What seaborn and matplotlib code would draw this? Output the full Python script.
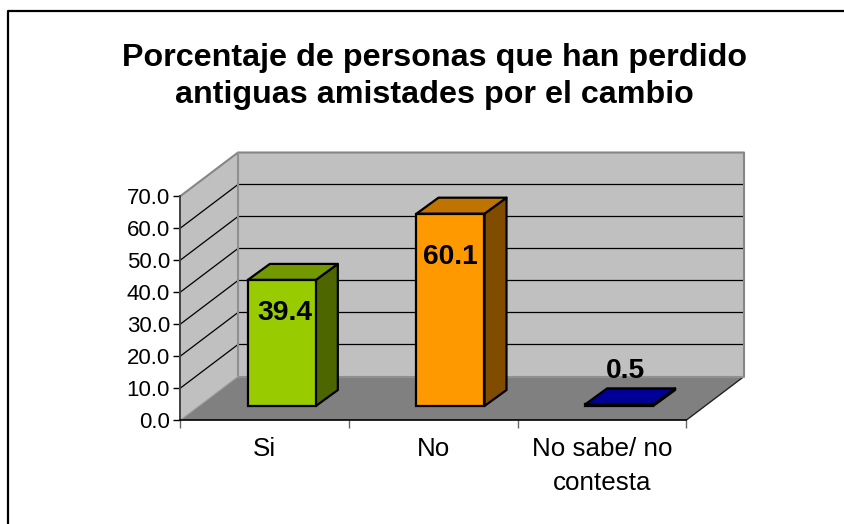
import numpy as np
import pandas as pd
import seaborn as sns
import matplotlib.pyplot as plt
from matplotlib.lines import Line2D
from matplotlib.patches import Polygon

categorias = ['Si', 'No', 'No sabe/ no\ncontesta']
porcentajes = [39.4, 60.1, 0.5]
colores = ['#99CC00', '#FF9900', '#0000CC']
colores_lado = ['#4D6600', '#804C00', '#000066']
colores_tapa = ['#739900', '#BF7300', '#000099']
ticks_y = [0, 10, 20, 30, 40, 50, 60, 70]
titulo = 'Porcentaje de personas que han perdido\nantiguas amistades por el cambio'

W, H = 845, 524
sns.set_theme(style='white')
plt.rcParams['font.family'] = ['Liberation Sans', 'DejaVu Sans']

df = pd.DataFrame({'categoria': categorias, 'valor': porcentajes})

fig = plt.figure(figsize=(W / 100, H / 100), dpi=100, facecolor='white')


def caja(x0, x1, y0, y1):
    # pixeles de la imagen (y hacia abajo) a fraccion de figura
    return [x0 / W, 1 - y1 / H, (x1 - x0) / W, (y1 - y0) / H]


# plano frontal del eje: 0 a 70 en pixeles 420 a 196
ax = fig.add_axes(caja(180.5, 686.5, 196, 420))
ax.set_xlim(-0.5, 2.5)
ax.set_ylim(0, 70)
ax.patch.set_alpha(0)

px_x = 506 / 3
px_y = 224 / 70
fondo_dx, fondo_dy = 57.5 / px_x, 43.5 / px_y


def poly(puntos, **kw):
    ax.add_patch(Polygon(puntos, closed=True, clip_on=False, **kw))


# paredes y suelo
x0, x1 = -0.5, 2.5
poly([(x0 + fondo_dx, fondo_dy), (x1 + fondo_dx, fondo_dy),
      (x1 + fondo_dx, 70 + fondo_dy), (x0 + fondo_dx, 70 + fondo_dy)],
     fc='#C0C0C0', ec='none', zorder=0.5)
poly([(x0, 0), (x0 + fondo_dx, fondo_dy), (x0 + fondo_dx, 70 + fondo_dy), (x0, 70)],
     fc='#C0C0C0', ec='none', zorder=0.6)
poly([(x0, 0), (x1, 0), (x1 + fondo_dx, fondo_dy), (x0 + fondo_dx, fondo_dy)],
     fc='#808080', ec='none', zorder=0.7)
ax.plot([x1, x1 + fondo_dx], [0, fondo_dy], color='#222222', lw=1, clip_on=False, zorder=0.8)

# rejilla
for t in ticks_y[1:-1]:
    ax.plot([x0, x0 + fondo_dx, x1 + fondo_dx],
            [t, t + fondo_dy, t + fondo_dy],
            color='black', lw=0.9, clip_on=False, zorder=0.9)

# contorno gris de las paredes
ax.plot([x0, x0 + fondo_dx, x1 + fondo_dx, x1 + fondo_dx],
        [70, 70 + fondo_dy, 70 + fondo_dy, fondo_dy],
        color='#868686', lw=1.5, clip_on=False, zorder=1)
ax.plot([x0 + fondo_dx, x0 + fondo_dx, x1 + fondo_dx],
        [70 + fondo_dy, fondo_dy, fondo_dy],
        color='#909090', lw=1.5, clip_on=False, zorder=1)
ax.plot([x0, x0 + fondo_dx], [0, fondo_dy],
        color='#A0A0A0', lw=0.8, clip_on=False, zorder=1)

# barras: plano a media profundidad, desplazado 17 px y 14 px
ax_b = fig.add_axes(caja(197.5, 703.5, 182, 406))
ax_b.patch.set_alpha(0)
sns.barplot(data=df, x='categoria', y='valor', hue='categoria', palette=colores,
            legend=False, width=68 / px_x, saturation=1, edgecolor='black',
            linewidth=1.6, ax=ax_b, zorder=3, clip_on=False)
ax_b.set_xlim(-0.5, 2.5)
ax_b.set_ylim(0, 70)
ax_b.axis('off')

# desplazamiento de cada etiqueta respecto al centro superior de la barra, en puntos
desp_etiquetas = [(2.5, -23.6), (0.2, -31), (4.7, 24)]

bar_dx, bar_dy = 22 / px_x, 16 / px_y
for i, (barra, v) in enumerate(zip(ax_b.patches, porcentajes)):
    a, b = barra.get_x(), barra.get_x() + barra.get_width()
    ax_b.add_patch(Polygon([(b, 0), (b + bar_dx, bar_dy), (b + bar_dx, v + bar_dy), (b, v)],
                           closed=True, fc=colores_lado[i], ec='black', lw=1.6,
                           joinstyle='round', clip_on=False, zorder=2))
    ax_b.add_patch(Polygon([(a, v), (b, v), (b + bar_dx, v + bar_dy), (a + bar_dx, v + bar_dy)],
                           closed=True, fc=colores_tapa[i], ec='black', lw=1.6,
                           joinstyle='round', clip_on=False, zorder=2.5))
    ax_b.annotate(f'{v:.1f}', (i, v), xytext=desp_etiquetas[i], textcoords='offset points',
                  ha='center', va='center', fontsize=20.3, fontweight='bold',
                  color='black', zorder=5)

# ejes
ax.set_yticks(ticks_y)
ax.set_yticklabels([f'{t:.1f}' for t in ticks_y], fontsize=16, color='black')
ax.set_xticks([-0.5, 0.5, 1.5, 2.5])
ax.set_xticklabels([])
ax.tick_params(axis='y', length=5, width=1, color='black', pad=2.5, left=True)
ax.tick_params(axis='x', length=6, width=1, color='#666666', bottom=True)
for i, c in enumerate(categorias):
    ax.text(i, -5.3, c, ha='center', va='top', fontsize=18.7, color='black',
            linespacing=1.53)
for lado in ['top', 'right']:
    ax.spines[lado].set_visible(False)
ax.spines['left'].set_color('#404040')
ax.spines['left'].set_linewidth(1.4)
ax.spines['bottom'].set_color('black')
ax.spines['bottom'].set_linewidth(1.2)

# marco y titulo: solo lados superior e izquierdo llegan a verse
fig.add_artist(Line2D([8.5 / W, 8.5 / W, 1], [0, 1 - 10.5 / H, 1 - 10.5 / H],
                      transform=fig.transFigure, color='black', lw=1.6))
fig.text(434.5 / W, 1 - 76.5 / H, titulo, ha='center', va='center', fontsize=23.2,
         fontweight='bold', color='black', linespacing=1.32)

fig.savefig('out.png', dpi=100)
